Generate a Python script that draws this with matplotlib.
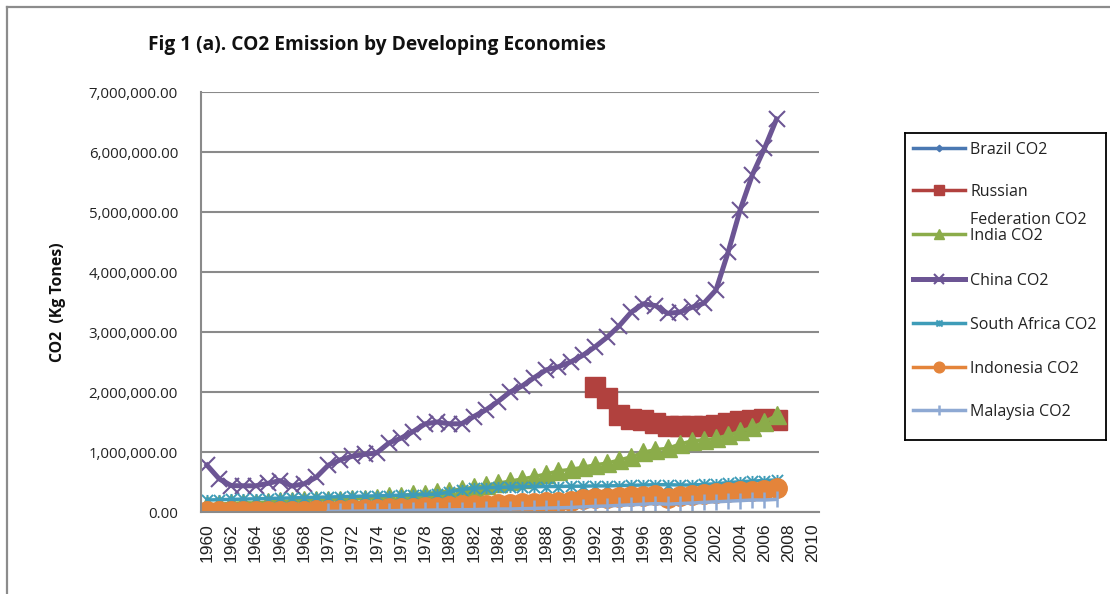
import numpy as np
import matplotlib
matplotlib.use("Agg")
import matplotlib.pyplot as plt
from matplotlib.path import Path
from matplotlib.lines import Line2D
from matplotlib.ticker import FuncFormatter, MultipleLocator

plt.rcParams['font.family'] = ['Open Sans', 'DejaVu Sans']

nan = np.nan

years = list(range(1960, 2008))

brazil_co2 = [47000, 51000, 56000, 58000, 61000, 58000, 66000, 69000, 81000, 88000,
              93000, 104000, 116000, 135000, 146000, 155000, 167000, 172000, 186000, 197000,
              186000, 175000, 178000, 170000, 172000, 180000, 195000, 203000, 207000, 210000,
              208000, 218000, 221000, 230000, 241000, 259000, 281000, 298000, 307000, 318000,
              327000, 337000, 331000, 322000, 336000, 343000, 349000, 364000]

russia_co2 = [nan] * 32 + [2080000, 1900000, 1620000, 1550000, 1530000, 1480000, 1430000, 1430000,
                           1430000, 1440000, 1450000, 1490000, 1510000, 1540000, 1550000, 1530000]

india_co2 = [120000, 130000, 143000, 155000, 150000, 165000, 177000, 184000, 195000, 203000,
             200000, 207000, 218000, 224000, 235000, 260000, 275000, 296000, 306000, 326000,
             355000, 385000, 410000, 445000, 480000, 515000, 550000, 590000, 635000, 685000,
             710000, 745000, 785000, 815000, 865000, 920000, 995000, 1040000, 1060000, 1130000,
             1186000, 1204000, 1226000, 1281000, 1345000, 1411000, 1504000, 1611000]

china_co2 = [780000, 552000, 440000, 437000, 436000, 476000, 523000, 433000, 469000, 577000,
             780000, 870000, 930000, 960000, 985000, 1150000, 1230000, 1340000, 1470000, 1500000,
             1470000, 1470000, 1590000, 1700000, 1840000, 2000000, 2100000, 2240000, 2370000, 2420000,
             2500000, 2610000, 2750000, 2910000, 3100000, 3330000, 3470000, 3440000, 3310000, 3330000,
             3410000, 3480000, 3700000, 4330000, 5040000, 5620000, 6060000, 6550000]

south_africa_co2 = [200000, 205000, 210000, 215000, 220000, 225000, 230000, 235000, 240000, 245000,
                    250000, 255000, 260000, 265000, 270000, 275000, 280000, 285000, 290000, 300000,
                    330000, 375000, 395000, 405000, 410000, 415000, 420000, 420000, 425000, 425000,
                    430000, 430000, 435000, 435000, 440000, 445000, 450000, 455000, 455000, 450000,
                    450000, 460000, 470000, 490000, 505000, 515000, 525000, 535000]

indonesia_co2 = [22000, 21000, 20000, 20000, 21000, 22000, 19000, 21000, 24000, 27000,
                 35000, 38000, 47000, 54000, 57000, 61000, 65000, 72000, 80000, 90000,
                 100000, 110000, 118000, 125000, 132000, 140000, 148000, 155000, 162000, 172000,
                 190000, 210000, 230000, 240000, 250000, 260000, 270000, 290000, 230000, 260000,
                 280000, 300000, 310000, 330000, 350000, 355000, 370000, 400000]

malaysia_co2 = [nan] * 10 + [10000, 12000, 14000, 16000, 18000, 20000, 25000, 28000, 30000, 33000,
                             35000, 38000, 40000, 45000, 50000, 50000, 55000, 60000, 65000, 70000,
                             75000, 85000, 95000, 100000, 110000, 120000, 130000, 140000, 130000, 140000,
                             150000, 160000, 170000, 180000, 190000, 200000, 200000, 210000]

labels = ["Brazil CO2", "Russian\nFederation CO2", "India CO2", "China CO2",
          "South Africa CO2", "Indonesia CO2", "Malaysia CO2"]

# Excel-style "star": an X crossed with a vertical bar
star = Path([(-1, -1), (1, 1), (-1, 1), (1, -1), (0, -1), (0, 1)],
            [Path.MOVETO, Path.LINETO, Path.MOVETO, Path.LINETO, Path.MOVETO, Path.LINETO])

styles = [
    dict(color='#4A78B2', lw=2.5, marker='D', ms=6, mfc='#4A78B2', mec='#4A78B2'),
    dict(color='#B1413E', lw=2.5, marker='s', ms=14, mfc='#B1413E', mec='#B1413E'),
    dict(color='#8BAC4A', lw=2.5, marker='^', ms=13, mfc='#8BAC4A', mec='#8BAC4A'),
    dict(color='#6C5594', lw=3.6, marker='x', ms=12, mew=1.5, mfc='none', mec='#6C5594'),
    dict(color='#3E9CB8', lw=2.5, marker=star, ms=8, mew=1.4, mfc='none', mec='#3E9CB8'),
    dict(color='#E4843A', lw=2.5, marker='o', ms=14, mfc='#E4843A', mec='#E4843A'),
    dict(color='#8EA9D3', lw=2.5, marker='|', ms=12, mew=1.8, mfc='#8EA9D3', mec='#8EA9D3'),
]

series = [brazil_co2, russia_co2, india_co2, china_co2,
          south_africa_co2, indonesia_co2, malaysia_co2]

W, H = 1110, 594
fig = plt.figure(figsize=(W / 100, H / 100), dpi=100)

# outer chart frame
fig.add_artist(Line2D([7 / W, 7 / W], [0, 1 - 7 / H], transform=fig.transFigure,
                      color='#8C8C8C', lw=1.6))
fig.add_artist(Line2D([7 / W, 1], [1 - 7 / H, 1 - 7 / H], transform=fig.transFigure,
                      color='#8C8C8C', lw=1.6))

left, right, top, bottom = 201, 819, 92, 512
ax = fig.add_axes([left / W, 1 - bottom / H, (right - left) / W, (bottom - top) / H])

for vals, st, lab in zip(series, styles, labels):
    ax.plot(years, vals, label=lab, **st)

ax.set_xlim(1959.5, 2010.5)
ax.set_ylim(0, 7000000)
ax.yaxis.set_major_locator(MultipleLocator(1000000))
ax.yaxis.set_major_formatter(FuncFormatter(lambda v, p: f"{v:,.2f}"))
ax.set_xticks(list(range(1960, 2011, 2)))
ax.set_xticklabels([str(y) for y in range(1960, 2011, 2)], rotation=90,
                   fontfamily='Liberation Sans', fontsize=12.5)
ax.tick_params(axis='both', length=0, colors='#222222')
ax.tick_params(axis='y', labelsize=10.8, pad=16.5)
ax.tick_params(axis='x', pad=8)
ax.grid(axis='y', color='#8A8A8A', lw=1.5)
ax.set_axisbelow(True)
for s in ['top', 'right']:
    ax.spines[s].set_visible(False)
ax.spines['left'].set_color('#8A8A8A')
ax.spines['left'].set_linewidth(1.5)
ax.spines['bottom'].set_color('#8A8A8A')
ax.spines['bottom'].set_linewidth(1.5)

fig.text(148 / W, 1 - 45 / H, "Fig 1 (a). CO2 Emission by Developing Economies",
         fontsize=13.8, fontweight='bold', ha='left', va='center', color='#111111')
fig.text(58 / W, 1 - 302 / H, "CO2  (Kg Tones)", rotation=90, fontsize=11.4,
         fontweight='bold', ha='center', va='center', color='#111111')

# legend panel
lx0, ly0, lx1, ly1 = 905, 133, 1106, 440
lax = fig.add_axes([lx0 / W, 1 - ly1 / H, (lx1 - lx0) / W, (ly1 - ly0) / H])
lax.set_xlim(0, lx1 - lx0)
lax.set_ylim(ly1 - ly0, 0)
lax.set_xticks([])
lax.set_yticks([])
for s in lax.spines.values():
    s.set_color('black')
    s.set_linewidth(1.3)
rows = [15, 57, 101, 146, 190, 234, 277]
for y, st, lab in zip(rows, styles, labels):
    line_st = {k: v for k, v in st.items() if k not in ('marker', 'ms', 'mew', 'mfc', 'mec')}
    lax.plot([8, 60], [y, y], **line_st)
    mk = {k: v for k, v in st.items() if k not in ('lw', 'color')}
    mk['ms'] = mk['ms'] * 0.55
    lax.plot([34], [y], ls='none', color=st['color'], **mk)
    if "\n" in lab:
        first, second = lab.split("\n")
        lax.text(65, y + 2, first, fontsize=11.5, va='center', ha='left', color='#222222')
        lax.text(65, y + 30, second, fontsize=11.5, va='center', ha='left', color='#222222')
    else:
        lax.text(65, y + 2, lab, fontsize=11.5, va='center', ha='left', color='#222222')

fig.savefig("out.png", dpi=100)
